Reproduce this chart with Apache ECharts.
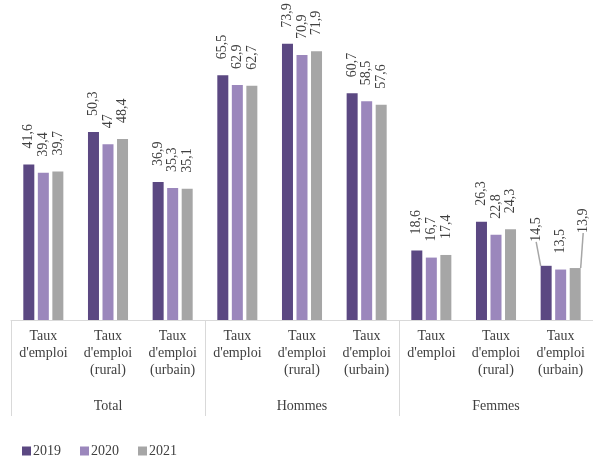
<!DOCTYPE html>
<html>
<head>
<meta charset="utf-8">
<script src="https://cdn.jsdelivr.net/npm/echarts@6/dist/echarts.min.js"></script>
<style>
  html, body { margin: 0; padding: 0; background: #fff; }
  #chart { width: 593px; height: 459px; }
</style>
</head>
<body>
<div id="chart"></div>
<script>
// catégories (niveau 1 et niveau 2)
const categories = [
  "Taux\nd'emploi", "Taux\nd'emploi\n(rural)", "Taux\nd'emploi\n(urbain)",
  "Taux\nd'emploi", "Taux\nd'emploi\n(rural)", "Taux\nd'emploi\n(urbain)",
  "Taux\nd'emploi", "Taux\nd'emploi\n(rural)", "Taux\nd'emploi\n(urbain)"
];
const groups = ["Total", "Hommes", "Femmes"];
const years = ["2019", "2020", "2021"];

const v2019 = [41.6, 50.3, 36.9, 65.5, 73.9, 60.7, 18.6, 26.3, 14.5];
const v2020 = [39.4, 47, 35.3, 62.9, 70.9, 58.5, 16.7, 22.8, 13.5];
const v2021 = [39.7, 48.4, 35.1, 62.7, 71.9, 57.6, 17.4, 24.3, 13.9];

const colors = ["#5b4882", "#9b87bc", "#a6a6a6"];
const font = "Times New Roman";

const chart = echarts.init(document.getElementById("chart"));

// étiquettes déplacées (avec trait de rappel) sur la dernière catégorie
// le texte est tourné de 90°, donc dx = vers le haut, dy = vers la droite
const moved = { 0: { dx: 8, dy: -10 }, 2: { dx: 19, dy: 8 } };

const mkSeries = (name, data, idx) => ({
  name: name,
  type: "bar",
  data: data.map((v, i) => (i === 8 && moved[idx])
    ? { value: v, labelLine: { show: true } }
    : v),
  barWidth: 11,
  barGap: "32%",
  itemStyle: { color: colors[idx] },
  label: {
    show: true,
    position: "top",
    rotate: 90,
    align: "left",
    verticalAlign: "middle",
    distance: 16,
    color: "#404040",
    fontFamily: font,
    fontSize: 14,
    formatter: p => String(p.value).replace(".", ",")
  },
  labelLine: { show: false, lineStyle: { color: "#a6a6a6", width: 1.5 } },
  labelLayout: p => (p.dataIndex === 8 && moved[idx]) ? moved[idx] : {}
});

chart.setOption({
  animation: false,
  color: colors,
  grid: { left: 11, right: -3, top: 21, bottom: 139 },
  legend: {
    data: years,
    left: 22,
    top: 444,
    padding: 0,
    itemWidth: 9,
    itemHeight: 9,
    itemGap: 19,
    icon: "rect",
    textStyle: { fontFamily: font, fontSize: 14, color: "#404040", padding: [0, 0, 0, -3] }
  },
  xAxis: [
    {
      type: "category",
      data: categories,
      axisLine: { show: true, lineStyle: { color: "#d9d9d9", width: 1 } },
      axisTick: { show: false },
      axisLabel: {
        interval: 0,
        margin: 8,
        fontFamily: font,
        fontSize: 14,
        lineHeight: 17,
        color: "#404040"
      }
    },
    {
      type: "category",
      data: groups,
      position: "bottom",
      axisLine: { show: false },
      axisTick: { show: true, length: 96, interval: 0, lineStyle: { color: "#d9d9d9" } },
      axisLabel: {
        interval: 0,
        margin: 79,
        fontFamily: font,
        fontSize: 14,
        color: "#404040"
      }
    }
  ],
  yAxis: {
    type: "value",
    min: 0,
    max: 80,
    show: false,
    splitLine: { show: false }
  },
  series: [
    mkSeries(years[0], v2019, 0),
    mkSeries(years[1], v2020, 1),
    mkSeries(years[2], v2021, 2)
  ]
});
</script>
</body>
</html>
